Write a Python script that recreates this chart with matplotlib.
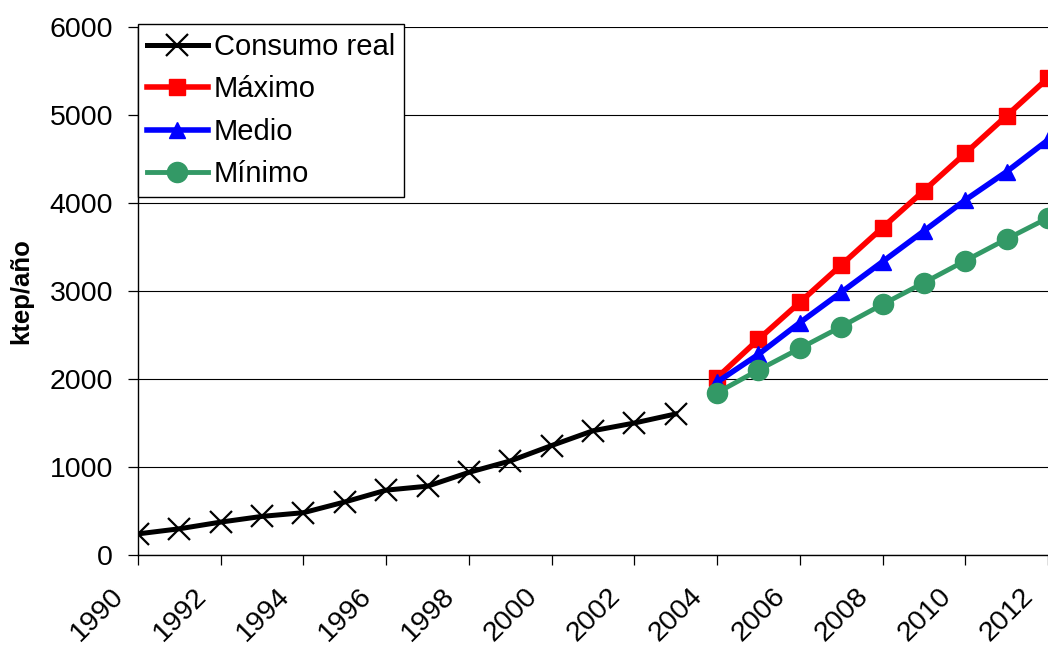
import matplotlib

matplotlib.use("Agg")
import matplotlib.pyplot as plt
from matplotlib.transforms import ScaledTranslation

plt.rcParams["font.family"] = ["Liberation Sans", "DejaVu Sans"]

# consumo historico (ktep/año)
years_real = [1990, 1991, 1992, 1993, 1994, 1995, 1996, 1997, 1998, 1999, 2000, 2001, 2002, 2003]
consumo_real = [240, 298, 374, 439, 481, 603, 737, 782, 939, 1069, 1244, 1412, 1500, 1603]

# escenarios de proyeccion
years_proj = [2004, 2005, 2006, 2007, 2008, 2009, 2010, 2011, 2012]
maximo = [2015, 2451, 2871, 3295, 3720, 4140, 4564, 4992, 5420]
medio = [1965, 2280, 2640, 2985, 3333, 3682, 4034, 4356, 4716]
minimo = [1844, 2102, 2348, 2594, 2848, 3094, 3344, 3591, 3830]

x_ticks = list(range(1990, 2013, 2))
y_ticks = [0, 1000, 2000, 3000, 4000, 5000, 6000]

W, H = 1048, 646
fig = plt.figure(figsize=(W / 100, H / 100), dpi=100)
ax = fig.add_axes([138 / W, 1 - 555 / H, 1 - 138 / W, (555 - 27) / H])

ax.plot(years_real, consumo_real, color="black", lw=3.6, marker="x", ms=16, mew=1.6,
        label="Consumo real", zorder=3)
ax.plot(years_proj, maximo, color="#FF0000", lw=4, marker="s", ms=11, label="Máximo", zorder=4)
ax.plot(years_proj, medio, color="#0000FF", lw=4, marker="^", ms=12, label="Medio", zorder=4)
ax.plot(years_proj, minimo, color="#339966", lw=3.5, marker="o", ms=14.5, label="Mínimo", zorder=4)

ax.set_xlim(1990, 1990 + (W - 138) / 41.45)
ax.set_ylim(0, 6000)
ax.set_xticks(x_ticks)
ax.set_xticklabels([str(y) for y in x_ticks], rotation=45, ha="right", va="top")
ax.set_yticks(y_ticks)
ax.tick_params(axis="both", direction="out", length=7, width=0.9, labelsize=20.5, color="black")
ax.tick_params(axis="x", pad=13)
ax.tick_params(axis="y", pad=11)

# las etiquetas del eje x quedan algo a la izquierda de la marca
shift = ScaledTranslation(-9 / 100, 0, fig.dpi_scale_trans)
for lab in ax.get_xticklabels():
    lab.set_transform(lab.get_transform() + shift)

ax.yaxis.grid(True, color="black", lw=0.8)
ax.set_axisbelow(True)
for side in ("top", "right"):
    ax.spines[side].set_visible(False)
for side in ("left", "bottom"):
    ax.spines[side].set_linewidth(1.0)

ax.set_ylabel("ktep/año", fontsize=18.5, fontweight="bold", labelpad=12)

leg = ax.legend(loc="upper left", bbox_to_anchor=(138 / W, 1 - 24 / H), bbox_transform=fig.transFigure,
                borderaxespad=0, fontsize=21, frameon=True, fancybox=False, edgecolor="black",
                framealpha=1, handlelength=2.1, handletextpad=0.2, labelspacing=0.5, borderpad=0.3)
leg.get_frame().set_linewidth(1.0)

fig.savefig("out.png", dpi=100)
